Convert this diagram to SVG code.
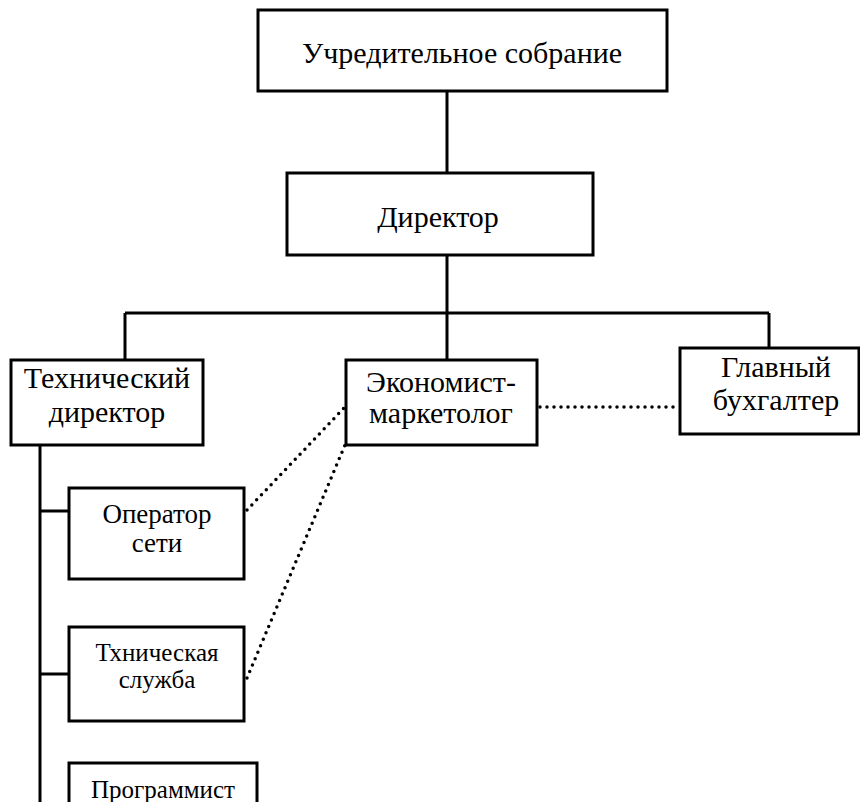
<svg xmlns="http://www.w3.org/2000/svg" width="860" height="802" viewBox="0 0 860 802">
<style>
.box{fill:#fff;stroke:#000;stroke-width:3}
.ln{fill:none;stroke:#000;stroke-width:3}
.dot{fill:none;stroke:#000;stroke-width:3.5;stroke-linecap:round;stroke-dasharray:0 7}
text{font-family:'Liberation Serif','DejaVu Serif',serif;fill:#000;text-anchor:middle}
.t30{font-size:30px}
.t27{font-size:27px}
.t25{font-size:25px}
</style>
<rect width="860" height="802" fill="#fff"/>
<g id="connectors">
<path class="ln" d="M447 91V173M447 255V313M125 313H769M125 313V360M447 313V360M769 313V348"/>
<path class="ln" d="M40 445V802M40 511H69M40 674H69"/>
<path class="dot" d="M540 407H680"/>
<path class="dot" d="M247 510L344 408"/>
<path class="dot" d="M247 678L345 445"/>
</g>
<g id="n-uchred"><rect class="box" x="258" y="10" width="409" height="81"/><text class="t30" x="462" y="63">Учредительное собрание</text></g>
<g id="n-director"><rect class="box" x="287" y="173" width="306" height="82"/><text class="t30" x="438" y="227">Директор</text></g>
<g id="n-tech"><rect class="box" x="11" y="360" width="192" height="85"/><text class="t30" x="107" y="388">Технический</text><text class="t30" x="107" y="422">директор</text></g>
<g id="n-econ"><rect class="box" x="346" y="360" width="191" height="85"/><text class="t30" x="441" y="392">Экономист-</text><text class="t30" x="441" y="423">маркетолог</text></g>
<g id="n-buh"><rect class="box" x="680" y="348" width="179" height="86"/><text class="t30" x="776" y="377">Главный</text><text class="t30" x="776" y="410">бухгалтер</text></g>
<g id="n-oper"><rect class="box" x="69" y="488" width="175" height="91"/><text class="t27" x="157" y="523">Оператор</text><text class="t27" x="157" y="552">сети</text></g>
<g id="n-techserv"><rect class="box" x="69" y="627" width="175" height="94"/><text class="t25" x="157" y="661">Тхническая</text><text class="t25" x="157" y="688">служба</text></g>
<g id="n-prog"><rect class="box" x="69" y="763" width="188" height="60"/><text class="t25" x="163" y="798">Программист</text></g>
</svg>
